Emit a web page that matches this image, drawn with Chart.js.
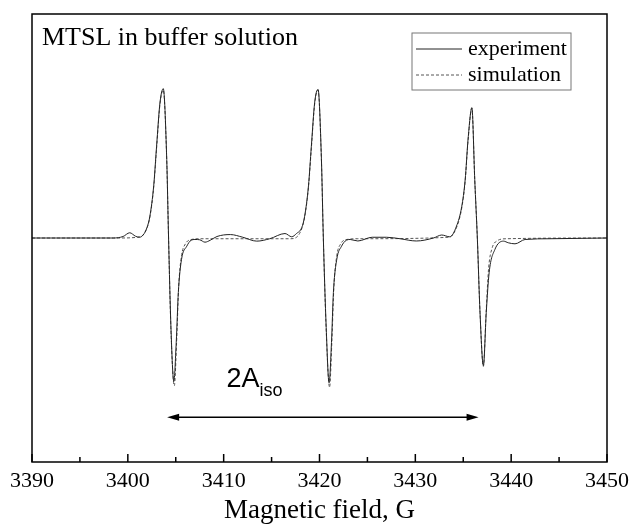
<!DOCTYPE html>
<html>
<head>
<meta charset="utf-8">
<script src="https://cdn.jsdelivr.net/npm/chart.js@4.4.0/dist/chart.umd.min.js"></script>
<style>
  html, body { margin: 0; padding: 0; background: #fff; }
  #wrap { width: 630px; height: 524px; }
</style>
</head>
<body>
<div id="wrap"><canvas id="eprChart" width="630" height="524"></canvas></div>
<script>
// EPR spectrum of MTSL (field in G, signal in arb. units)
const expField = [
  3390, 3395, 3398.5, 3399.5, 3400.2, 3400.8, 3401.2, 3401.6, 3402.0, 3402.3,
  3402.7, 3403.0, 3403.36, 3403.7, 3404.06, 3404.25, 3404.5, 3404.8, 3405.05, 3405.27,
  3405.6, 3406.15, 3406.6, 3407.0, 3407.5, 3408.05, 3408.6, 3409.3, 3410.7, 3412.0,
  3413.45, 3414.8, 3416.4, 3417.1, 3417.6, 3418.15, 3418.45, 3418.85, 3419.15, 3419.5,
  3419.85, 3420.2, 3420.4, 3420.7, 3421.0, 3421.25, 3421.45, 3421.8, 3422.3, 3422.8,
  3423.2, 3424.0, 3425.5, 3427.0, 3428.4, 3430.1, 3431.9, 3432.75, 3433.6, 3434.3,
  3434.84, 3435.2, 3435.5, 3435.9, 3436.2, 3436.47, 3436.75, 3437.1, 3437.4, 3437.7,
  3438.3, 3439.2, 3439.7, 3440.4, 3441.45, 3444.05, 3450
];
const expSignal = [
  0, 0, 0, 0.01, 0.035, 0.012, 0.005, 0.02, 0.07, 0.146,
  0.35, 0.615, 0.91, 1.0, 0.526, 0.0, -0.6, -0.96, -0.7, -0.365,
  -0.144, -0.055, -0.015, -0.01, -0.012, -0.028, -0.015, 0.01, 0.023, 0.005,
  -0.021, -0.005, 0.03, 0.008, 0.03, 0.07, 0.146, 0.35, 0.615, 0.91,
  0.995, 0.53, 0.0, -0.6, -0.97, -0.7, -0.365, -0.144, -0.055, -0.015,
  -0.01, -0.02, 0.005, 0.005, -0.005, -0.02, 0.0, 0.02, 0.008, 0.08,
  0.21, 0.39, 0.66, 0.873, 0.39, 0.0, -0.5, -0.855, -0.5, -0.233,
  -0.077, -0.021, -0.032, -0.039, -0.01, -0.005, 0
];
const simField = [
  3390, 3399, 3401.0, 3401.8, 3402.3, 3402.7, 3403.0, 3403.36, 3403.7, 3404.06,
  3404.25, 3404.5, 3404.85, 3405.1, 3405.3, 3405.6, 3406.0, 3406.5, 3407.5, 3417.0,
  3418.0, 3418.45, 3418.85, 3419.15, 3419.5, 3419.85, 3420.2, 3420.4, 3420.7, 3421.05,
  3421.3, 3421.5, 3421.8, 3422.2, 3422.7, 3424.0, 3433.5, 3434.3, 3434.84, 3435.2,
  3435.5, 3435.9, 3436.2, 3436.47, 3436.75, 3437.1, 3437.4, 3437.65, 3438.0, 3438.5,
  3439.5, 3450
];
const simSignal = [
  0, 0, 0.005, 0.04, 0.14, 0.34, 0.6, 0.9, 0.99, 0.52,
  0, -0.62, -0.99, -0.68, -0.33, -0.12, -0.04, -0.012, -0.005, -0.005,
  0.04, 0.14, 0.34, 0.6, 0.9, 0.99, 0.52, 0, -0.62, -1.0,
  -0.68, -0.33, -0.12, -0.04, -0.012, -0.005, 0.005, 0.07, 0.2, 0.38,
  0.65, 0.87, 0.39, 0, -0.5, -0.86, -0.48, -0.2, -0.07, -0.02,
  -0.005, 0
];
const fieldTicks = [3390, 3400, 3410, 3420, 3430, 3440, 3450];
const minorTicks = [3395, 3405, 3415, 3425, 3435, 3445];

// 2A_iso arrow between outer line centres
const arrowFrom = 3404.1;
const arrowTo = 3436.6;
const arrowLevel = -1.2;

const toPoints = (xs, ys) => xs.map((v, i) => ({ x: v, y: ys[i] }));

const framePlugin = {
  id: 'frame',
  afterDatasetsDraw(chart) {
    const { ctx, chartArea: a, scales } = chart;
    const x = scales.x, y = scales.y;
    ctx.save();

    // box round the plot
    ctx.strokeStyle = '#000';
    ctx.lineWidth = 1.5;
    ctx.strokeRect(a.left, a.top, a.right - a.left, a.bottom - a.top);

    // inward ticks on the field axis
    ctx.beginPath();
    fieldTicks.forEach(v => {
      const px = x.getPixelForValue(v);
      ctx.moveTo(px, a.bottom);
      ctx.lineTo(px, a.bottom - 8);
    });
    minorTicks.forEach(v => {
      const px = x.getPixelForValue(v);
      ctx.moveTo(px, a.bottom);
      ctx.lineTo(px, a.bottom - 5);
    });
    ctx.stroke();

    // sample label
    ctx.fillStyle = '#000';
    ctx.font = '26px "Liberation Serif"';
    ctx.textBaseline = 'alphabetic';
    ctx.textAlign = 'left';
    ctx.fillText('MTSL in buffer solution', a.left + 10, 45);

    // legend
    const lx = a.right - 195, ly = a.top + 19;
    ctx.strokeStyle = '#777';
    ctx.lineWidth = 1;
    ctx.strokeRect(lx, ly, 159, 57);
    chart.data.datasets.forEach((ds, i) => {
      const yy = ly + 16 + i * 26;
      ctx.beginPath();
      ctx.strokeStyle = ds.borderColor;
      ctx.lineWidth = ds.borderWidth;
      ctx.setLineDash(ds.borderDash || []);
      ctx.moveTo(lx + 4, yy);
      ctx.lineTo(lx + 50, yy);
      ctx.stroke();
      ctx.setLineDash([]);
      ctx.fillStyle = '#000';
      ctx.font = '22px "Liberation Serif"';
      ctx.textBaseline = 'middle';
      ctx.fillText(ds.label, lx + 56, yy);
    });

    // double-headed arrow
    const x1 = x.getPixelForValue(arrowFrom);
    const x2 = x.getPixelForValue(arrowTo);
    const ay = y.getPixelForValue(arrowLevel);
    ctx.strokeStyle = '#000';
    ctx.fillStyle = '#000';
    ctx.lineWidth = 1.5;
    ctx.beginPath();
    ctx.moveTo(x1 + 6, ay);
    ctx.lineTo(x2 - 6, ay);
    ctx.stroke();
    ctx.beginPath();
    ctx.moveTo(x1, ay);
    ctx.lineTo(x1 + 12, ay - 3.5);
    ctx.lineTo(x1 + 12, ay + 3.5);
    ctx.closePath();
    ctx.moveTo(x2, ay);
    ctx.lineTo(x2 - 12, ay - 3.5);
    ctx.lineTo(x2 - 12, ay + 3.5);
    ctx.closePath();
    ctx.fill();

    // 2A_iso label
    const tx = x.getPixelForValue(3410.3);
    const ty = y.getPixelForValue(-1.0);
    ctx.textBaseline = 'alphabetic';
    ctx.font = '27px "Liberation Sans"';
    ctx.fillText('2A', tx, ty);
    const w = ctx.measureText('2A').width;
    ctx.font = '18px "Liberation Sans"';
    ctx.fillText('iso', tx + w, ty + 9);

    ctx.restore();
  }
};

new Chart(document.getElementById('eprChart'), {
  type: 'line',
  data: {
    datasets: [
      {
        label: 'experiment',
        data: toPoints(expField, expSignal),
        borderColor: '#222',
        borderWidth: 1,
        pointRadius: 0,
        cubicInterpolationMode: 'monotone',
        fill: false
      },
      {
        label: 'simulation',
        data: toPoints(simField, simSignal),
        borderColor: '#555',
        borderWidth: 1,
        borderDash: [3, 2],
        pointRadius: 0,
        cubicInterpolationMode: 'monotone',
        fill: false
      }
    ]
  },
  options: {
    responsive: false,
    animation: false,
    layout: { padding: { left: 32, right: 23, top: 14, bottom: 0 } },
    plugins: {
      legend: { display: false },
      tooltip: { enabled: false }
    },
    scales: {
      x: {
        type: 'linear',
        min: 3390,
        max: 3450,
        afterBuildTicks: s => { s.ticks = fieldTicks.map(v => ({ value: v })); },
        afterFit: s => {
          s.height = 62;
          s.paddingLeft = 0;
          s.paddingRight = 0;
        },
        grid: { display: false, drawTicks: false },
        border: { display: false },
        ticks: {
          padding: 6,
          maxRotation: 0,
          color: '#000',
          font: { family: 'Liberation Serif', size: 22 },
          callback: v => String(v)
        },
        title: {
          display: true,
          text: 'Magnetic field, G',
          color: '#000',
          padding: { top: 2, bottom: 0 },
          font: { family: 'Liberation Serif', size: 27, lineHeight: 1 }
        }
      },
      y: {
        display: false,
        min: -1.5,
        max: 1.5
      }
    }
  },
  plugins: [framePlugin]
});
</script>
</body>
</html>
